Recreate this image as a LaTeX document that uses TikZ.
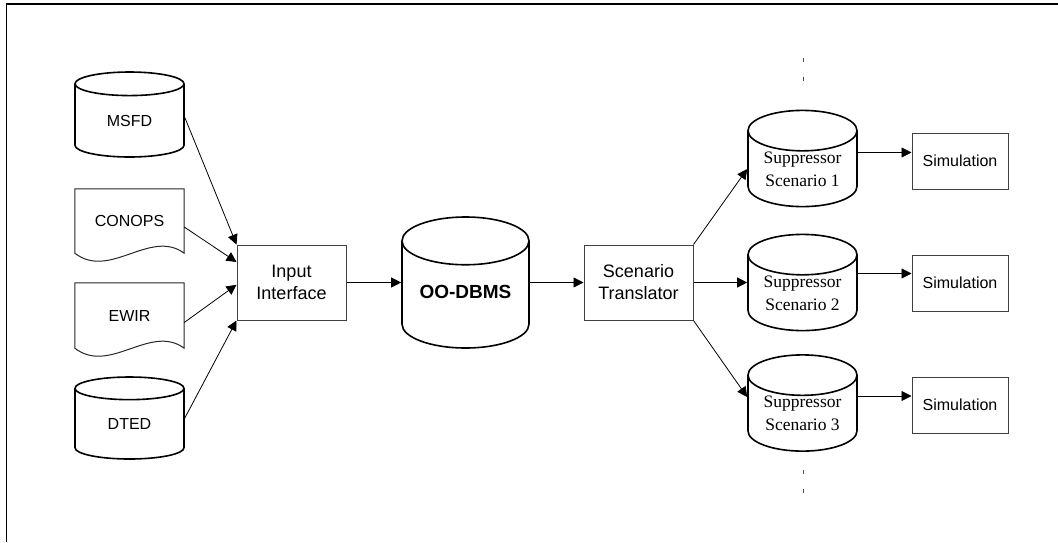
\documentclass[tikz,border=0pt]{standalone}
\usepackage{fontspec}
\setmainfont{Liberation Sans}
\newfontfamily\scenfont{Liberation Serif}
\usetikzlibrary{shapes.geometric,arrows.meta,calc}

\tikzset{
  dbase/.style={cylinder, shape border rotate=90, aspect=0.52, draw, line width=1.6pt,
    minimum width=109pt, inner sep=0pt, align=center, anchor=shape center,
    font=\fontsize{16}{19}\selectfont},
  scen/.style={dbase, minimum height=95pt, font=\scenfont\fontsize{17.5}{23}\selectfont},
  procbox/.style={rectangle, draw=black!75, line width=1pt, minimum width=109pt,
    minimum height=75pt, align=center, font=\fontsize{18}{22}\selectfont},
  simbox/.style={rectangle, draw=black!75, line width=1pt, minimum width=96pt,
    minimum height=56pt, font=\fontsize{16}{19}\selectfont},
  docshape/.style={rectangle, minimum width=109pt, inner sep=0pt, font=\fontsize{16}{19}\selectfont},
  docline/.style={draw=black!85, line width=1pt},
  conn/.style={line width=0.8pt, ->},
}

\begin{document}
\begin{tikzpicture}[x=1pt, y=-1pt, >={Triangle[length=10pt,width=10pt]}]
	\useasboundingbox (0,0) rectangle (1058,542);

	% frame (only top and left edges show)
	\coordinate (fr0) at (6.5,4);
	\coordinate (fr1) at (6.5,542);
	\coordinate (fr2) at (1058,4);
	\draw [line width=1.8pt] (fr1) -- (fr0) -- (fr2);

	% sources
        \node at (129.5,114.5) [dbase, minimum height=85pt] (msfd) {MSFD};
        \node at (129.5,221) [docshape, minimum height=64pt] (conops) {CONOPS};
        \node at (129.5,315.5) [docshape, minimum height=65pt] (ewir) {EWIR};
        \node at (129.5,418) [dbase, minimum height=82pt] (dted) {DTED};

	\draw [docline] (conops.north west) -- (conops.south west) .. controls +(35,27) and +(-34,-25) .. (conops.south east) -- (conops.north east) -- cycle;
	\draw [docline] (ewir.north west) -- (ewir.south west) .. controls +(35,27) and +(-34,-25) .. (ewir.south east) -- (ewir.north east) -- cycle;

	% core
        \node at (291.5,282.5) [procbox] (ii) {Input\\Interface};
        \node at (465.5,282.5) [dbase, minimum width=127pt, minimum height=131pt,
		text depth=5pt, font=\bfseries\fontsize{19}{23}\selectfont] (oodb) {OO-DBMS};
        \node at (638.5,282.5) [procbox] (st) {Scenario\\Translator};

	% scenarios
        \node at (802.5,158.5) [scen] (ss1) {Suppressor\\Scenario 1};
        \node at (802.5,282.5) [scen] (ss2) {Suppressor\\Scenario 2};
        \node at (802.5,403) [scen] (ss3) {Suppressor\\Scenario 3};

        \node at (960,161) [simbox] (sim1) {Simulation};
        \node at (960,283) [simbox] (sim2) {Simulation};
        \node at (960,405) [simbox] (sim3) {Simulation};

	\coordinate (dt1) at (803,58);
	\coordinate (dt2) at (803,82);
	\coordinate (db1) at (803,470);
	\coordinate (db2) at (803,494);
	\draw [black!70, line width=1pt, dash pattern=on 4pt off 15pt] (dt1) -- (dt2);
	\draw [black!70, line width=1pt, dash pattern=on 4pt off 15pt] (db1) -- (db2);

     \draw [conn] ([yshift=-3pt]msfd.shape center -| msfd.east) -- (ii.north west);
     \draw [conn] ([yshift=-6pt]conops.east) -- ($(ii.north west)!0.23!(ii.south west)$);
     \draw [conn] ([yshift=-7pt]ewir.east) -- ($(ii.north west)!0.53!(ii.south west)$);
     \draw [conn] (dted.shape center -| dted.east) -- (ii.south west);

     \draw [conn] (ii.east) -- (ii.east -| oodb.west);
     \draw [conn] (st.west -| oodb.east) -- (st.west);

     \draw [conn] (st.north east) -- (ss1.west);
     \draw [conn] (st.east) -- (st.east -| ss2.west);
     \draw [conn] (st.south east) -- ([yshift=6pt]ss3.shape center -| ss3.west);

     \draw [conn] ([yshift=6pt]ss1.shape center -| ss1.east) -- ([yshift=6pt]ss1.shape center -| sim1.west);
     \draw [conn] ([yshift=9pt]ss2.shape center -| ss2.east) -- ([yshift=9pt]ss2.shape center -| sim2.west);
     \draw [conn] ([yshift=7pt]ss3.shape center -| ss3.east) -- ([yshift=7pt]ss3.shape center -| sim3.west);
    \end{tikzpicture}
\end{document}
